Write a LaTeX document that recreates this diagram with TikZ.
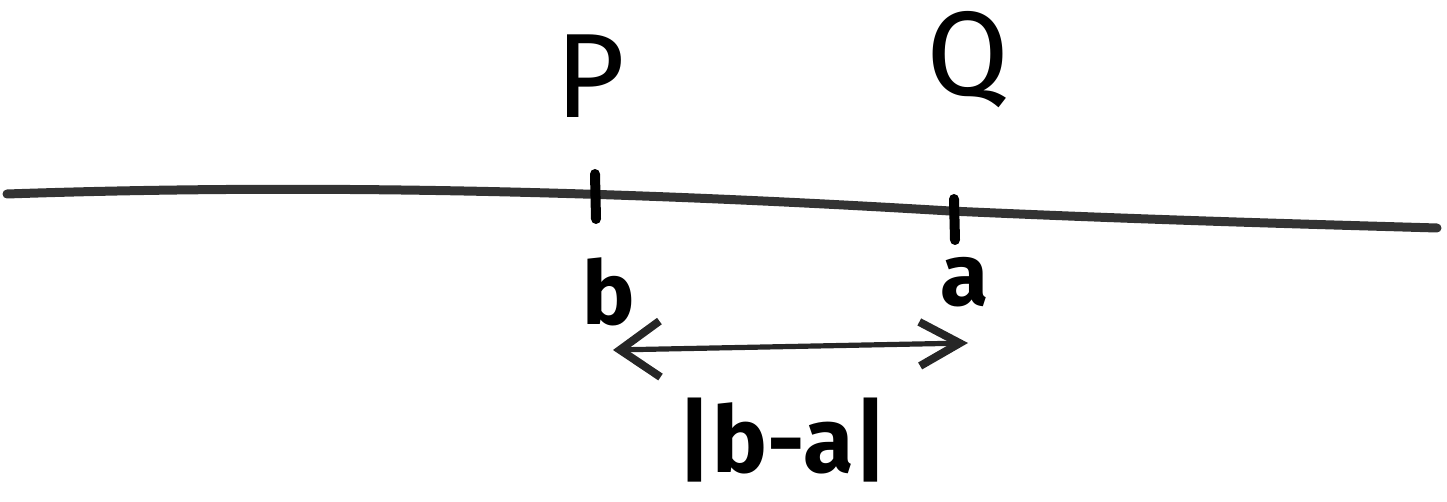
\documentclass[tikz,border=0pt]{standalone}
\usepackage{fontspec}
\setmainfont{Fira Sans}
\usetikzlibrary{arrows.meta}
\tikzset{
  hand/.style={line cap=round, line join=round},
  tickmark/.style={hand, line width=5pt, black},
  numline/.style={hand, line width=4.5pt, black!80},
  lbl/.style={inner sep=0pt, font=\fontsize{60}{60}\selectfont},
  smalllbl/.style={inner sep=0pt, font=\fontsize{44}{44}\selectfont\bfseries},
  distlbl/.style={inner sep=0pt, font=\fontsize{46}{46}\selectfont\bfseries},
  dist/.style={hand, line width=2.6pt, black!85,
    {Straight Barb[length=20pt,width=28pt,line width=4pt]}-{Straight Barb[length=20pt,width=22pt,line width=4pt]}}
}
\begin{document}
\begin{tikzpicture}[x=0.5pt,y=-0.5pt]
\useasboundingbox (0,0) rectangle (1447,502);
% number line
\coordinate (L) at (7,194);
\coordinate (R) at (1437,228);
\draw[numline] (L) .. controls (300,184) and (600,190) .. (950,211)
  .. controls (1150,220) and (1300,224) .. (R);
% ticks
\coordinate (pt) at (595,174);
\coordinate (pb) at (596,219);
\coordinate (qt) at (954,199);
\coordinate (qb) at (955,240);
\draw[tickmark] (pt) -- (pb);
\draw[tickmark] (qt) -- (qb);
% labels
\node[lbl] (P) at (590,76) {P};
\node[lbl] (Q) at (968,60) {Q};
\node[smalllbl] (b) at (609,292) {b};
\node[smalllbl] (a) at (965,282) {a};
% distance arrow
\coordinate (al) at (613,350);
\coordinate (ar) at (968,343);
\draw[dist] (al) -- (ar);
\node[distlbl] (d) at (783,440) {|b-a|};
\end{tikzpicture}
\end{document}
